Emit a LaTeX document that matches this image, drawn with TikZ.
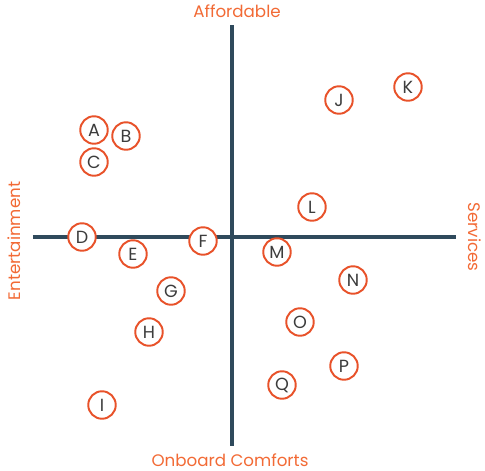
\documentclass[tikz,border=0pt]{standalone}
\usepackage{fontspec}
\setmainfont{Poppins}
\usepackage{tikz}
\usetikzlibrary{positioning}

\definecolor{axisblue}{HTML}{2F4A5C}
\definecolor{mapred}{HTML}{E8522A}
\definecolor{labelorange}{HTML}{F26A35}
\definecolor{lettergray}{HTML}{3C3C3C}

\begin{document}
\begin{tikzpicture}[x=0.02cm,y=-0.02cm,
    axis/.style={draw=axisblue,line width=2.2pt},
    brand/.style={circle,draw=mapred,line width=1.1pt,fill=white,minimum size=0.55cm,inner sep=0pt,
      text=lettergray,font=\fontsize{10}{10}\selectfont},
    pole/.style={text=labelorange,font=\fontsize{9.5}{10}\selectfont}]
  \useasboundingbox (0,0) rectangle (485,471);

  % axes
  \coordinate (top) at (232,25);
  \coordinate (bottom) at (232,446);
  \coordinate (left) at (33,237);
  \coordinate (right) at (456,237);
  \draw[axis] (top) -- (bottom);
  \draw[axis] (left) -- (right);

  % axis ends
  \node[pole] (afford) at (237,11) {Affordable};
  \node[pole] (onboard) at (230,460) {Onboard Comforts};
  \node[pole,rotate=90] (enter) at (14,241) {Entertainment};
  \node[pole,rotate=-90] (serv) at (475,237) {Services};

  % positioned brands
  \foreach \name/\x/\y in {A/94/130, B/126/136, C/94/162, D/82/237, E/133/254,
      F/203/241, G/171/291, H/149/332, I/102/405, J/339/100, K/408/87,
      L/312/207, M/277/252, N/353/280, O/300/322, P/344/366, Q/282/385}
    \node[brand] (\name) at (\x,\y) {\name};
\end{tikzpicture}
\end{document}
